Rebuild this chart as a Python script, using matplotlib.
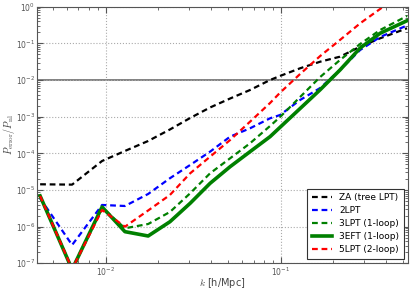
import numpy as np
import matplotlib
matplotlib.use("Agg")
import matplotlib.pyplot as plt
from matplotlib.ticker import NullFormatter

plt.rcParams['mathtext.fontset'] = 'cm'
plt.rcParams['font.family'] = ['DejaVu Sans']

# wavenumbers [h/Mpc]
k = [0.00423, 0.00644, 0.00955, 0.0129, 0.0175, 0.0233, 0.0304, 0.0395, 0.0514,
     0.0668, 0.0869, 0.0991, 0.129, 0.168, 0.218, 0.284, 0.369, 0.526]

za = [1.43e-5, 1.40e-5, 6.18e-5, 1.16e-4, 2.17e-4, 4.47e-4, 9.2e-4, 1.78e-3, 3.13e-3,
      5.34e-3, 1.00e-2, 1.29e-2, 2.09e-2, 3.16e-2, 4.33e-2, 8.11e-2, 0.137, 0.258]
lpt2 = [5.94e-6, 3.16e-7, 3.90e-6, 3.66e-6, 7.78e-6, 2.09e-5, 4.81e-5, 1.11e-4, 2.85e-4,
        4.82e-4, 9.03e-4, 1.11e-3, 2.85e-3, 6.06e-3, 1.88e-2, 6.59e-2, 0.149, 0.307]
lpt3 = [6.86e-6, 7.0e-8, 3.33e-6, 9.02e-7, 1.18e-6, 2.51e-6, 8.13e-6, 2.85e-5, 7.32e-5,
        1.88e-4, 5.57e-4, 9.80e-4, 3.44e-3, 1.21e-2, 3.52e-2, 9.61e-2, 0.231, 0.557]
eft3 = [6.86e-6, 6.78e-8, 3.44e-6, 7.29e-7, 5.56e-7, 1.36e-6, 4.34e-6, 1.52e-5, 4.32e-5,
        1.11e-4, 2.85e-4, 5.13e-4, 1.67e-3, 5.44e-3, 1.88e-2, 7.47e-2, 0.188, 0.415]
lpt5 = [6.86e-6, 7.0e-8, 2.85e-6, 9.97e-7, 2.76e-6, 7.31e-6, 2.85e-5, 8.09e-5, 2.31e-4,
        7.30e-4, 2.36e-3, 4.51e-3, 1.46e-2, 4.52e-2, 0.124, 0.352, 0.865, 3.2]

fig = plt.figure(figsize=(4.13, 2.91), dpi=100)
ax = fig.add_axes([0.0896, 0.0952, 0.8984, 0.8818])

dash = (2.6, 1.7)
ax.axhline(1e-2, color='#777777', lw=1.3, zorder=1)
ax.loglog(k, za, 'k--', lw=1.6, dashes=dash, label='ZA (tree LPT)')
ax.loglog(k, lpt2, 'b--', lw=1.6, dashes=dash, label='2LPT')
ax.loglog(k, lpt3, '--', color='g', lw=1.6, dashes=dash, label='3LPT (1-loop)')
ax.loglog(k, eft3, '-', color='g', lw=2.6, label='3EFT (1-loop)')
ax.loglog(k, lpt5, 'r--', lw=1.6, dashes=dash, label='5LPT (2-loop)')

ax.set_xlim(0.00406, 0.533)
ax.set_ylim(1e-7, 1)
ax.grid(True, which='major', ls=':', color='#aaaaaa', lw=0.8)
ax.xaxis.set_minor_formatter(NullFormatter())
ax.yaxis.set_minor_formatter(NullFormatter())

for s in ax.spines.values():
    s.set_color('#555555')
ax.tick_params(which='both', direction='in', top=True, right=True,
               colors='#555555', labelsize=5.5, pad=1.5)
ax.tick_params(which='major', length=4)
ax.tick_params(which='minor', length=2)

ax.set_xlabel(r'$k$ [h/Mpc]', fontsize=7, color='#444444')
ax.set_ylabel(r'$P_{\rm error}/P_{\rm nl}$', fontsize=7.2, color='#444444')
ax.xaxis.set_label_coords(0.5, -0.05)
ax.yaxis.set_label_coords(-0.054, 0.5)

leg = ax.legend(loc='lower right', fontsize=6.5, handlelength=2.2, fancybox=False,
                framealpha=1, borderpad=0.5, labelspacing=0.45)
leg.get_frame().set_edgecolor('#333333')
leg.get_frame().set_linewidth(0.8)

fig.savefig('out.png', dpi=100)
